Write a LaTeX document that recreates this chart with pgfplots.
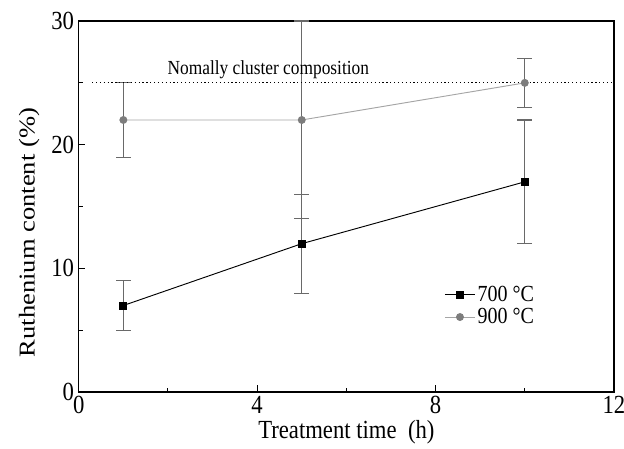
\documentclass[border=0pt]{standalone}
\usepackage{fontspec}
\setmainfont{Liberation Serif}
\usepackage{pgfplots}
\pgfplotsset{compat=1.18}
\definecolor{errgray}{RGB}{105,105,105}
\definecolor{line900}{RGB}{165,165,165}
\definecolor{mark900}{RGB}{125,125,125}
\begin{document}
\begin{tikzpicture}
\begin{axis}[name=ax, scale only axis, width=401pt, height=278pt,
  xmin=0, xmax=12, ymin=0, ymax=30,
  xtick={0,4,8,12}, ytick={0,10,20,30},
  minor xtick={2,6,10}, minor ytick={5,15,25},
  xtick pos=bottom, ytick pos=left,
  tick align=inside, major tick length=5pt, minor tick length=3pt,
  tick style={black, line width=0.8pt},
  axis line style={line width=1pt},
  clip=false,
  ticklabel style={font=\fontsize{17}{17}\selectfont, yscale=1.15},
  xticklabel style={yshift=1pt},
  /pgf/number format/assume math mode=true,
  xlabel={Treatment time\ \ (h)}, ylabel={Ruthenium content (\%)},
  label style={font=\fontsize{17}{17}\selectfont},
  xlabel style={yshift=3pt, yscale=1.15},
  ylabel style={at={(ticklabel cs:0.43)}, yshift=2pt, xscale=1.17},
  legend style={draw=none, fill=none, at={(axis cs:8.1,9.0)}, anchor=north west,
    font=\fontsize{15}{15}\selectfont, row sep=0pt,
    nodes={inner sep=1.5pt, yscale=1.15}},
  legend image code/.code={\draw[mark repeat=2,mark phase=2,#1] plot coordinates {(0cm,0cm) (0.4cm,0cm) (0.8cm,0cm)};},
  legend cell align=left,
]
\addplot[black, line width=0.7pt, mark=square*, mark size=2.6pt,
  error bars/.cd, y dir=both, y explicit,
  error bar style={errgray, line width=0.8pt},
  error mark options={errgray, rotate=90, mark size=5.5pt, line width=0.8pt}]
  coordinates {(1,7) +- (0,2) (5,12) +- (0,4) (10,17) +- (0,5)};
\addlegendentry{700 °C}
\addplot[line900, line width=0.7pt, mark=*, mark size=2.6pt, mark options={fill=mark900, draw=mark900},
  error bars/.cd, y dir=both, y explicit,
  error bar style={errgray, line width=0.8pt},
  error mark options={errgray, rotate=90, mark size=5.5pt, line width=0.8pt}]
  coordinates {(1,22) +- (0,3) (5,22) +- (0,8) (10,25) +- (0,2)};
\addlegendentry{900 °C}
\addplot[black, dotted, line width=0.9pt, forget plot] coordinates {(0.3,25) (12,25)};
\node[anchor=south, font=\fontsize{13}{13}\selectfont, inner sep=1pt, yscale=1.15] at (axis cs:4.25,25.15) {Nomally cluster composition};
\end{axis}
\pgfresetboundingbox
\path (ax.south west) ++(-59pt,-42pt) coordinate (bl);
\path (ax.north east) ++(7.5pt,15.75pt) coordinate (tr);
\path (bl) rectangle (tr);
\end{tikzpicture}
\end{document}
